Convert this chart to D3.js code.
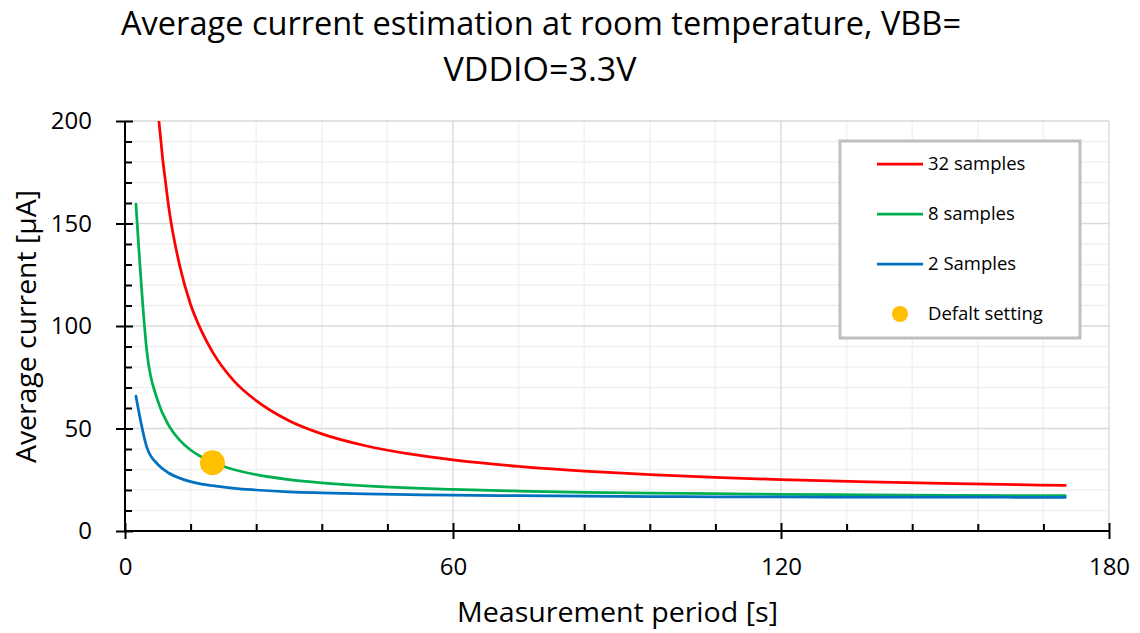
<!DOCTYPE html>
<html>
<head>
<meta charset="utf-8">
<script src="https://cdn.jsdelivr.net/npm/d3@7"></script>
<style>
  html, body { margin: 0; padding: 0; background: #fff; }
  svg { display: block; }
  text { font-family: "Open Sans", "Liberation Sans", sans-serif; fill: #000; }
</style>
</head>
<body>
<svg id="chart" width="1140" height="633"></svg>
<script>
// ---- data ----
const periods = [2, 4, 6, 8, 10, 12, 14, 16, 20, 24, 30, 36, 44, 52, 60, 72, 84, 96, 108, 120, 136, 152, 172];
const samples32 = [590, 303, 207, 158, 129.5, 110.5, 97.5, 87.4, 73.0, 63.6, 53.8, 47.4, 41.6, 37.6, 34.7, 31.5, 29.2, 27.5, 26.1, 25.1, 24.0, 23.1, 22.2];
const samples8  = [159.5, 87.5, 63.5, 51.5, 44.3, 39.5, 36.1, 33.5, 29.9, 27.5, 25.1, 23.5, 22.0, 21.0, 20.3, 19.5, 18.9, 18.5, 18.2, 17.9, 17.6, 17.4, 17.2];
const samples2  = [65.8, 40.8, 32.5, 28.3, 25.8, 24.1, 22.9, 22.1, 20.8, 20.0, 19.1, 18.6, 18.1, 17.7, 17.5, 17.2, 17.0, 16.8, 16.7, 16.6, 16.5, 16.5, 16.4];
const defaultSetting = [16, 33.3];
const seriesNames = ["32 samples", "8 samples", "2 Samples", "Defalt setting"];
const seriesColors = ["#FF0000", "#00B050", "#0070C0", "#FFC000"];
const xMajorTicks = [0, 60, 120, 180];
const xMinorTicks = [12, 24, 36, 48, 72, 84, 96, 108, 132, 144, 156, 168];
const yMajorTicks = [0, 50, 100, 150, 200];
const yMinorTicks = [10, 20, 30, 40, 60, 70, 80, 90, 110, 120, 130, 140, 160, 170, 180, 190];
const titleLines = ["Average current estimation at room temperature, VBB=", "VDDIO=3.3V"];
const xTitle = "Measurement period [s]";
const yTitle = "Average current [\u00b5A]";

// ---- layout ----
const L = 125, R = 1109, T = 121, B = 531;
const svg = d3.select("#chart");
const x = d3.scaleLinear().domain([0, 180]).range([L, R]);
const y = d3.scaleLinear().domain([0, 200]).range([B, T]);

// gridlines
const grid = svg.append("g");
grid.selectAll(".vmin").data(xMinorTicks).join("line")
  .attr("x1", d => x(d)).attr("x2", d => x(d)).attr("y1", T).attr("y2", B)
  .attr("stroke", "#F0F0F0").attr("stroke-width", 1.3);
grid.selectAll(".hmin").data(yMinorTicks).join("line")
  .attr("x1", L).attr("x2", R).attr("y1", d => y(d)).attr("y2", d => y(d))
  .attr("stroke", "#F0F0F0").attr("stroke-width", 1.3);
grid.selectAll(".vmaj").data(xMajorTicks.filter(d => d > 0)).join("line")
  .attr("x1", d => x(d)).attr("x2", d => x(d)).attr("y1", T).attr("y2", B)
  .attr("stroke", "#D9D9D9").attr("stroke-width", 1.3);
grid.selectAll(".hmaj").data(yMajorTicks.filter(d => d > 0)).join("line")
  .attr("x1", L).attr("x2", R).attr("y1", d => y(d)).attr("y2", d => y(d))
  .attr("stroke", "#D9D9D9").attr("stroke-width", 1.3);

// clip
svg.append("defs").append("clipPath").attr("id", "plotclip")
  .append("rect").attr("x", L).attr("y", T).attr("width", R - L).attr("height", B - T);

// lines
const line = d3.line().x(d => x(d[0])).y(d => y(d[1])).curve(d3.curveMonotoneX);
const seriesVals = [samples32, samples8, samples2];
const lines = svg.append("g").attr("clip-path", "url(#plotclip)");
seriesVals.forEach((vals, i) => {
  lines.append("path")
    .datum(periods.map((p, k) => [p, vals[k]]))
    .attr("d", line)
    .attr("fill", "none")
    .attr("stroke", seriesColors[i])
    .attr("stroke-width", 2.75)
    .attr("stroke-linejoin", "round")
    .attr("stroke-linecap", "round");
});
// default point
svg.append("circle")
  .attr("cx", x(defaultSetting[0])).attr("cy", y(defaultSetting[1]))
  .attr("r", 12.5).attr("fill", seriesColors[3]);

// axes
const axisColor = "#000";
const yAxisMinor = svg.append("g").attr("transform", `translate(${L},0)`)
  .call(d3.axisLeft(y).tickValues(yMinorTicks).tickSize(-7).tickFormat(""));
const yAxis = svg.append("g").attr("transform", `translate(${L},0)`)
  .call(d3.axisLeft(y).tickValues(yMajorTicks).tickSize(8).tickPadding(25));
yAxis.selectAll(".tick line").attr("x1", -9).attr("x2", 8);
const xAxisMinor = svg.append("g").attr("transform", `translate(0,${B})`)
  .call(d3.axisBottom(x).tickValues(xMinorTicks).tickSize(-7).tickFormat(""));
const xAxis = svg.append("g").attr("transform", `translate(0,${B})`)
  .call(d3.axisBottom(x).tickValues(xMajorTicks).tickSize(8).tickPadding(19));
xAxis.selectAll(".tick line").attr("y1", -8).attr("y2", 8);
[yAxisMinor, yAxis, xAxisMinor, xAxis].forEach(g => {
  g.select(".domain").remove();
  g.selectAll(".tick line").attr("stroke", axisColor).attr("stroke-width", 2);
});
yAxis.selectAll(".tick text").attr("font-size", 24).attr("font-family", "Open Sans").attr("fill", "#000");
xAxis.selectAll(".tick text").attr("font-size", 24).attr("font-family", "Open Sans").attr("fill", "#000");
svg.append("line").attr("x1", L).attr("x2", L).attr("y1", T).attr("y2", B + 1)
  .attr("stroke", axisColor).attr("stroke-width", 2);
svg.append("line").attr("x1", L - 1).attr("x2", R + 1).attr("y1", B).attr("y2", B)
  .attr("stroke", axisColor).attr("stroke-width", 2);

// titles
svg.append("text").attr("x", 541).attr("y", 35).attr("text-anchor", "middle")
  .attr("font-size", 32).attr("textLength", 840).attr("lengthAdjust", "spacingAndGlyphs")
  .text(titleLines[0]);
svg.append("text").attr("x", 540).attr("y", 81).attr("text-anchor", "middle")
  .attr("font-size", 32).attr("textLength", 193).attr("lengthAdjust", "spacingAndGlyphs")
  .text(titleLines[1]);
svg.append("text").attr("x", 617.5).attr("y", 622).attr("text-anchor", "middle")
  .attr("font-size", 27).attr("textLength", 321).attr("lengthAdjust", "spacingAndGlyphs")
  .text(xTitle);
svg.append("text").attr("transform", "translate(36,326.5) rotate(-90)").attr("text-anchor", "middle")
  .attr("font-size", 28).attr("textLength", 273).attr("lengthAdjust", "spacingAndGlyphs")
  .text(yTitle);

// legend
const lg = svg.append("g");
lg.append("rect").attr("x", 840).attr("y", 141).attr("width", 240).attr("height", 197)
  .attr("fill", "#fff").attr("stroke", "#BFBFBF").attr("stroke-width", 3);
const rowsY = [164, 214, 264, 314];
seriesNames.forEach((name, i) => {
  if (i < 3) {
    lg.append("line").attr("x1", 877).attr("x2", 923).attr("y1", rowsY[i]).attr("y2", rowsY[i])
      .attr("stroke", seriesColors[i]).attr("stroke-width", 2.75);
  } else {
    lg.append("circle").attr("cx", 900).attr("cy", rowsY[i]).attr("r", 8).attr("fill", seriesColors[i]);
  }
  lg.append("text").attr("x", 928).attr("y", rowsY[i]).attr("dy", "0.35em")
    .attr("font-size", 18.5).attr("fill", "#1a1a1a").text(name);
});
</script>
</body>
</html>
